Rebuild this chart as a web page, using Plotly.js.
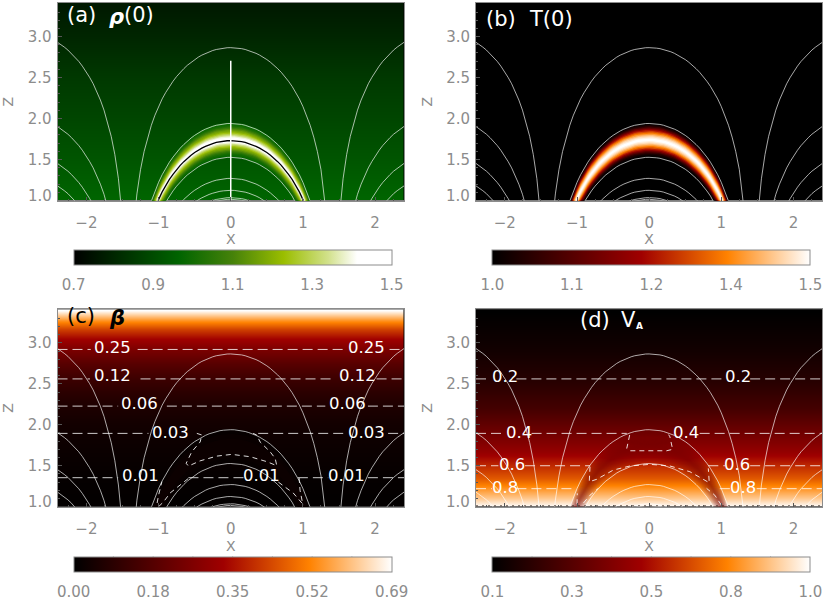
<!DOCTYPE html>
<html><head><meta charset="utf-8">
<script src="https://cdn.plot.ly/plotly-3.0.1.min.js"></script>
<style>html,body{margin:0;padding:0;background:#fff}</style></head>
<body><div id="chart" style="width:830px;height:601px"></div>
<script>
const zRhoRows = [1.0, 1.5, 2.0, 2.5, 3.0, 3.4];
const rhoRows = [0.968, 0.925, 0.885, 0.85, 0.80, 0.765];
const zTempRows = [1.0, 3.4];
const tempRows = [1.0, 1.0];
const zBetaRows = [1.0, 1.354, 1.895, 2.06, 2.228, 2.39, 2.56, 2.74, 2.92, 3.04, 3.16, 3.28, 3.4];
const betaRows = [0.005, 0.01, 0.03, 0.042, 0.06, 0.085, 0.12, 0.175, 0.25, 0.322, 0.415, 0.535, 0.69];
const zVaRows = [1.0, 1.1, 1.22, 1.35, 1.5, 1.68, 1.895, 2.2, 2.56, 2.9, 3.4];
const vaRows = [1.0, 0.9, 0.8, 0.69, 0.6, 0.49, 0.4, 0.28, 0.2, 0.15, 0.1];

// Shape of one field line: drop below its apex at distance X from its axis
const loopX = [0,.05,.1,.15,.2,.25,.3,.35,.4,.45,.5,.55,.6,.65,.7,.75,.8,.85,.9,.95,1,1.05,1.1,1.15,1.2,1.25,1.3,1.35,1.4];
const loopDrop = [0,-.001,-.006,-.012,-.022,-.035,-.05,-.069,-.091,-.116,-.145,-.178,-.214,-.256,-.301,-.352,-.41,-.473,-.546,-.625,-.719,-.824,-.947,-1.092,-1.267,-1.488,-1.785,-2.234,-3.16];
// Field lines: apex height of the central arches, and of the arches beside them
const archApex = [2.865, 1.94, 1.527, 1.27, 1.124, 1.035, 1.015];
const sideApex = [3.05, 2.023, 1.572, 1.298];
const sideAxis = 2.856;

// Loop (tube) cross-section: half-width in apex height, value at that half-width
const tubeCentre = 1.74;
const tubeHalf = [.21,.195,.18,.165,.15,.135,.12,.105,.09,.075,.06,.045,.03,.015];
const tubeRho = [.972,.988,1.004,1.036,1.076,1.124,1.164,1.196,1.244,1.292,1.34,1.388,1.436,1.5];
const tubeTemp = [1,1.015,1.04,1.08,1.135,1.2,1.26,1.315,1.36,1.4,1.435,1.465,1.485,1.5];
const tubeBetaHalf = [.21,.15,.09];
const tubeBeta = [.012,.018,.024];
const blackLoopApex = 1.73;
const spineZ = [1.0, 2.705];

// Colour bar ranges and tick labels
const rhoTicks = ['0.7','0.9','1.1','1.3','1.5'];
const tempTicks = ['1.0','1.1','1.2','1.4','1.5'];
const betaTicks = ['0.00','0.18','0.35','0.52','0.69'];
const vaTicks = ['0.1','0.3','0.5','0.8','1.0'];
const rhoRange = [0.7, 1.5], tempRange = [1.0, 1.5], betaRange = [0, 0.69], vaRange = [0.1, 1.0];

// Beta contours: level height, then broken stretches left around the labels
const betaLevels = [
 {z:2.92, x:[-2.4,-1.94,null,-1.29,1.56,null,2.2,2.4]},
 {z:2.56, x:[-2.4,-1.95,null,-1.25,1.445,null,2.02,2.4]},
 {z:2.228,x:[-2.4,-1.56,null,-.885,1.31,null,1.9,2.4]},
 {z:1.895,x:[-2.4,-1.14,null,.38,1.56,null,2.18,2.4]},
 {z:1.354,x:[-2.4,-1.56,null,-.586,.2,null,.93,1.35,null,1.9,2.4]}
];
const betaLoopsX = [
 [-.47,-.40,-.424,-.54,-.618,-.586,-.424,-.19,.015,.27,.5,.638,.615,.546,.407,.36,.31],
 [-1.0,-.93,-.84,-.70,-.586],
 [-1.02,-1.0,-.954],
 [.66,.684,.866,.985],
 [.947,.96,1.0]
];
const betaLoopsZ = [
 [1.895,1.875,1.79,1.67,1.53,1.496,1.56,1.618,1.639,1.61,1.55,1.50,1.59,1.67,1.79,1.875,1.895],
 [1.0,1.06,1.167,1.265,1.346],
 [1.045,1.14,1.305],
 [1.30,1.285,1.167,1.045],
 [1.35,1.2,1.02]
];
const betaLabelText = ['0.25','0.25','0.12','0.12','0.06','0.06','0.03','0.03','0.01','0.01','0.01'];
const betaLabelX = [-1.64,1.875,-1.64,1.75,-1.27,1.62,-.84,1.875,-1.255,.43,1.61];
const betaLabelZ = [2.94,2.94,2.60,2.60,2.26,2.26,1.91,1.91,1.38,1.38,1.38];

const vaLevels = [
 {z:2.56, x:[-2.4,-2.2,null,-1.84,1.07,null,1.40,2.4]},
 {z:1.895,x:[-2.4,-2.0,null,-1.63,-.31,null,.70,2.4]},
 {z:1.5,  x:[-2.4,-2.09,null,-1.72,-.82,null,.82,1.05,null,1.4,2.4]},
 {z:1.22, x:[-2.4,-2.18,null,-1.84,-1.03,null,.98,1.12,null,1.49,2.4]}
];
const vaLoopsX = [
 [-.27,-.28,-.31,-.266,-.035,.242,.325,.288,.27],
 [-.82,-.83,-.727,-.497,-.266,.011,.288,.565,.75,.833,.82],
 [-1.0,-.996],
 [-.91,-.82,-.705],
 [1.0,.91,.796]
];
const vaLoopsZ = [
 [1.875,1.834,1.712,1.683,1.683,1.683,1.70,1.853,1.88],
 [1.488,1.305,1.334,1.447,1.497,1.517,1.497,1.427,1.334,1.293,1.468],
 [1.03,1.163],
 [1.045,1.14,1.224],
 [1.02,1.14,1.224]
];
const vaBaseLevelZ = 1.012;
const vaLabelText = ['0.2','0.2','0.4','0.4','0.6','0.6','0.8','0.8'];
const vaLabelX = [-2.0,1.235,-1.81,.505,-1.90,1.22,-2.0,1.295];
const vaLabelZ = [2.59,2.59,1.91,1.91,1.52,1.52,1.24,1.24];

// Panel captions, piece by piece: text, left edge, middle height, size, emphasis, colour
const captions = [
 ['(a)',65,15,21,false,'#fff'], ['\u03c1',107,17,21,true,'#fff'], ['(0)',122,15,21,false,'#fff'],
 ['(b)',484,19,21,false,'#fff'], ['T(0)',527,19,21,false,'#fff'],
 ['(c)',65,316,21,false,'#000'], ['\u03b2',107,318,21,true,'#000'],
 ['(d)',578,320,21,false,'#fff'], ['V',619,320,21,false,'#fff'], ['A',634,326,9,'sub','#fff']
];

// Colour tables
const greenStops = [[0,[0,0,0]],[.33,[0,100,0]],[.5,[70,130,10]],[.66,[155,190,0]],[.8,[210,225,140]],[.89,[255,255,255]],[1,[255,255,255]]];
const heatStops = [[0,[0,0,0]],[.47,[160,0,0]],[.74,[255,130,0]],[1,[255,255,255]]];
const toPlotly = s => s.map(p => [p[0], 'rgb(' + p[1].join(',') + ')']);
function colorAt(stops, v, range) {
  const t = Math.min(1, Math.max(0, (v - range[0]) / (range[1] - range[0])));
  for (let i = 1; i < stops.length; i++) {
    if (t <= stops[i][0]) {
      const a = stops[i-1], b = stops[i], f = (t - a[0]) / (b[0] - a[0]);
      return 'rgb(' + a[1].map((c, k) => Math.round(c + (b[1][k] - c) * f)).join(',') + ')';
    }
  }
  return 'rgb(255,255,255)';
}

// Layout in pixels
const W = 830, H = 601;
const cols = [[57.5, 404], [476, 822.3]];
const rows = [[3, 200.5], [309.3, 506.7]];
const bars = [[232.65, 250], [651.3, 250], [232.65, 556.7], [651.3, 556.7]];
const barLen = 318, barThick = 15;
const gray = '#8c8c8c';
const FONT = 'DejaVu Sans, sans-serif';
const fieldLine = {color:'rgba(255,255,255,0.66)', width:1};
const contourLine = {color:'rgba(255,255,255,0.8)', width:1, dash:'10px,5px'};
const contourLoopLine = {color:'rgba(255,255,255,0.85)', width:1, dash:'5px,4px'};

const fullX = loopX.slice(1).reverse().map(v => -v).concat(loopX);
const fullDrop = loopDrop.slice(1).reverse().concat(loopDrop);
const traces = [], annotations = [], shapes = [], layout = {};

function axisIds(i) { const s = i === 0 ? '' : String(i + 1); return {x:'x' + s, y:'y' + s}; }
function addLine(i, x, z, line) {
  const a = axisIds(i);
  traces.push({type:'scatter', mode:'lines', x:x, y:z, xaxis:a.x, yaxis:a.y, line:line, hoverinfo:'skip', showlegend:false});
}
function addBand(i, half, fillcolor) {
  const a = axisIds(i);
  const up = fullDrop.map(d => tubeCentre + half + d);
  const low = fullDrop.map(d => tubeCentre - half + d).reverse();
  traces.push({type:'scatter', mode:'lines', x:fullX.concat(fullX.slice().reverse()), y:up.concat(low), fill:'toself', fillcolor:fillcolor,
    line:{width:0}, xaxis:a.x, yaxis:a.y, hoverinfo:'skip', showlegend:false});
}
function addHeat(i, zRows, vals, stops, range, tickText) {
  const t = [0,.25,.5,.75,1].map(f => range[0] + (range[1]-range[0]) * f), a = axisIds(i);
  traces.push({type:'heatmap', x:[-2.4,2.4], y:zRows, z:vals.map(v => [v,v]), zmin:range[0], zmax:range[1], zsmooth:'best',
    colorscale:toPlotly(stops), xaxis:a.x, yaxis:a.y, hoverinfo:'skip',
    colorbar:{orientation:'h', lenmode:'pixels', len:barLen, thicknessmode:'pixels', thickness:barThick,
      x:bars[i][0]/W, xanchor:'center', xref:'paper', y:1-bars[i][1]/H, yanchor:'top', yref:'paper', xpad:0, ypad:0,
      outlinecolor:gray, outlinewidth:1, borderwidth:0, ticks:'outside', ticklen:7, tickcolor:'rgba(0,0,0,0)',
      tickmode:'array', tickvals:t, ticktext:tickText, tickfont:{family:FONT, size:15, color:gray}}});
}
function addFieldLines(i) {
  archApex.forEach(h => addLine(i, fullX, fullDrop.map(d => h + d), fieldLine));
  const dist = loopX.filter(v => v >= .45), drop = loopDrop.filter((v, k) => loopX[k] >= .45);
  sideApex.forEach(h => {
    addLine(i, dist.map(d => d - sideAxis), drop.map(d => h + d), fieldLine);
    addLine(i, dist.map(d => sideAxis - d), drop.map(d => h + d), fieldLine);
  });
}
function addContours(i, levels, loopsX, loopsZ) {
  levels.forEach(l => addLine(i, l.x, l.x.map(v => v === null ? null : l.z), contourLine));
  loopsX.forEach((x, k) => addLine(i, x, loopsZ[k], contourLoopLine));
}
function addLabels(i, text, xs, zs) {
  const a = axisIds(i);
  text.forEach((t, k) => annotations.push({xref:a.x, yref:a.y, x:xs[k], y:zs[k], text:t, showarrow:false, xanchor:'center', yanchor:'middle',
    font:{family:FONT, size:16.5, color:'#fff'}}));
}

// (a)
addHeat(0, zRhoRows, rhoRows, greenStops, rhoRange, rhoTicks);
tubeHalf.forEach((h, k) => addBand(0, h, colorAt(greenStops, tubeRho[k], rhoRange)));
addFieldLines(0);
addLine(0, fullX, fullDrop.map(d => blackLoopApex + d), {color:'#000', width:1.3});
addLine(0, [0, 0], spineZ, {color:'#fff', width:1.5});
// (b)
addHeat(1, zTempRows, tempRows, heatStops, tempRange, tempTicks);
tubeHalf.forEach((h, k) => addBand(1, h, colorAt(heatStops, tubeTemp[k], tempRange)));
addFieldLines(1);
// (c)
addHeat(2, zBetaRows, betaRows, heatStops, betaRange, betaTicks);
tubeBetaHalf.forEach((h, k) => addBand(2, h, colorAt(heatStops, tubeBeta[k], betaRange)));
addFieldLines(2);
addContours(2, betaLevels, betaLoopsX, betaLoopsZ);
addLabels(2, betaLabelText, betaLabelX, betaLabelZ);
// (d)
addHeat(3, zVaRows, vaRows, heatStops, vaRange, vaTicks);
tubeHalf.forEach(h => addBand(3, h, 'rgba(120,0,0,0.065)'));
addFieldLines(3);
addContours(3, vaLevels, vaLoopsX, vaLoopsZ);
addLine(3, [-2.4, 2.4], [vaBaseLevelZ, vaBaseLevelZ], {color:'rgba(50,30,20,0.7)', width:1, dash:'2px,4px'});
addLabels(3, vaLabelText, vaLabelX, vaLabelZ);

// Axes
for (let i = 0; i < 4; i++) {
  const a = axisIds(i), c = cols[i % 2], r = rows[i < 2 ? 0 : 1];
  const common = {showline:true, mirror:true, linecolor:gray, linewidth:1, showgrid:false, zeroline:false,
    ticks:'inside', ticklen:4, tickcolor:'#555', tickwidth:1, tickfont:{family:FONT, size:15, color:gray},
    minor:{ticks:'inside', ticklen:2, tickcolor:'#555', tickwidth:1, showgrid:false}};
  layout['xaxis' + (i ? i + 1 : '')] = Object.assign({}, common, {domain:[c[0]/W, c[1]/W], range:[-2.4,2.4], anchor:a.y,
    tickmode:'array', tickvals:[-2,-1,0,1,2], ticktext:['\u22122','\u22121','0','1','2'], ticklabelstandoff:8,
    minor:Object.assign({}, common.minor, {tickmode:'array', tickvals:[-2.25,-1.75,-1.5,-1.25,-.75,-.5,-.25,.25,.5,.75,1.25,1.5,1.75,2.25]}),
    title:{text:'X', standoff:3, font:{family:FONT, size:14, color:gray}}});
  layout['yaxis' + (i ? i + 1 : '')] = Object.assign({}, common, {domain:[1-r[1]/H, 1-r[0]/H], range:[1,3.41], anchor:a.x,
    tickmode:'array', tickvals:[1.5,2,2.5,3], ticktext:['1.5','2.0','2.5','3.0'], ticklabelstandoff:2,
    minor:Object.assign({}, common.minor, {tickmode:'array', tickvals:[1.1,1.2,1.3,1.4,1.6,1.7,1.8,1.9,2.1,2.2,2.3,2.4,2.6,2.7,2.8,2.9,3.1,3.2,3.3,3.4]}),
    title:{text:'Z', standoff:10, font:{family:FONT, size:14, color:gray}}});
  annotations.push({xref:'paper', yref:a.y, x:(c[0]-4)/W, y:1.055, text:'1.0', showarrow:false, xanchor:'right', yanchor:'middle',
    font:{family:FONT, size:15, color:gray}});
  // Small marks inside the colour bar
  [.125,.25,.375,.5,.625,.75,.875].forEach(f => {
    const px = bars[i][0] - barLen/2 + barLen*f, top = bars[i][1];
    [[top, top+3], [top+barThick-3, top+barThick]].forEach(s => shapes.push({type:'line', xref:'paper', yref:'paper',
      x0:px/W, x1:px/W, y0:1-s[0]/H, y1:1-s[1]/H, line:{color:'#555', width:1}}));
  });
}
captions.forEach(c => annotations.push({xref:'paper', yref:'paper', x:c[1]/W, y:1-c[2]/H, text:c[0], showarrow:false, xanchor:'left', yanchor:'middle',
  font:{family:FONT, size:c[3], color:c[5], weight:c[4] ? 700 : 400, style:c[4] === true ? 'italic' : 'normal'}}));

Object.assign(layout, {width:W, height:H, margin:{l:0,r:0,t:0,b:0,pad:0,autoexpand:false}, paper_bgcolor:'#fff', plot_bgcolor:'#000',
  showlegend:false, annotations:annotations, shapes:shapes, font:{family:FONT}});
Plotly.newPlot('chart', traces, layout, {displayModeBar:false, staticPlot:true});
</script></body></html>
